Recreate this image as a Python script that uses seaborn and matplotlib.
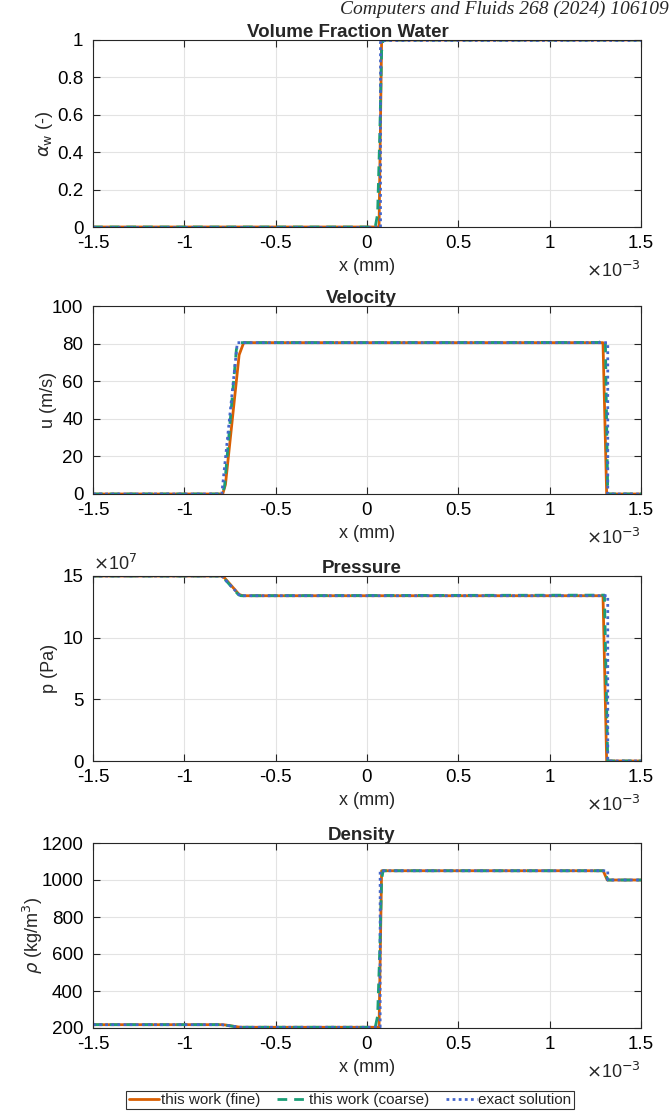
import numpy as np
import pandas as pd
import matplotlib
matplotlib.use("Agg")
import matplotlib.pyplot as plt
import seaborn as sns
from matplotlib.lines import Line2D
from matplotlib.ticker import FuncFormatter

# ---------------- data (x in mm) ----------------
# Volume fraction water
alpha_fine_x = [-1.5, 0.066, 0.080, 1.5]
alpha_fine_y = [0, 0, 1, 1]
alpha_coarse_x = [-1.5, 0.045, 0.058, 0.070, 0.080, 0.088, 1.5]
alpha_coarse_y = [0, 0, 0.07, 0.5, 0.94, 1, 1]
alpha_exact_x = [-1.5, 0.072, 0.072, 1.5]
alpha_exact_y = [0, 0, 1, 1]

# Velocity (m/s)
u_fine_x = [-1.5, -0.79, -0.775, -0.70, -0.675, 1.292, 1.312, 1.5]
u_fine_y = [0, 0, 5, 74, 80.5, 80.5, 0, 0]
u_coarse_x = [-1.5, -0.792, -0.78, -0.715, -0.695, 1.27, 1.29, 1.305, 1.318, 1.5]
u_coarse_y = [0, 0, 4, 77, 80.5, 80.6, 81.5, 81.5, 0, 0]
u_exact_x = [-1.5, -0.795, -0.71, 1.318, 1.318, 1.5]
u_exact_y = [0, 0, 80.5, 80.5, 0, 0]

# Pressure (Pa)
p_fine_x = [-1.5, -0.80, -0.78, -0.70, -0.68, 1.292, 1.312, 1.5]
p_fine_y = [15.0e7, 15.0e7, 14.85e7, 13.5e7, 13.4e7, 13.4e7, 0, 0]
p_coarse_x = [-1.5, -0.80, -0.785, -0.705, -0.69, 1.30, 1.318, 1.5]
p_coarse_y = [15.0e7, 15.0e7, 14.85e7, 13.5e7, 13.4e7, 13.45e7, 0, 0]
p_exact_x = [-1.5, -0.795, -0.695, 1.318, 1.318, 1.5]
p_exact_y = [15.0e7, 15.0e7, 13.4e7, 13.4e7, 0, 0]

# Density (kg/m^3)
rho_fine_x = [-1.5, -0.80, -0.78, -0.70, -0.68, 0.066, 0.080, 1.293, 1.315, 1.5]
rho_fine_y = [218, 218, 217, 205, 204, 204, 1050, 1050, 1000, 1000]
rho_coarse_x = [-1.5, -0.80, -0.785, -0.705, -0.69, 0.045, 0.058, 0.070, 0.080, 0.088, 1.30, 1.318, 1.5]
rho_coarse_y = [218, 218, 217, 205, 204, 204, 265, 627, 1000, 1050, 1050, 1000, 1000]
rho_exact_x = [-1.5, -0.795, -0.695, 0.072, 0.072, 1.318, 1.318, 1.5]
rho_exact_y = [218, 218, 204, 204, 1050, 1050, 1000, 1000]

titles = ["Volume Fraction Water", "Velocity", "Pressure", "Density"]
ylabels = [r"$\alpha_{\rm w}$ (-)", "u (m/s)", "p (Pa)", r"$\rho$ (kg/m$^{\rm 3}$)"]
yticks = [[0, 0.2, 0.4, 0.6, 0.8, 1.0],
          [0, 20, 40, 60, 80, 100],
          [0, 5e7, 10e7, 15e7],
          [200, 400, 600, 800, 1000, 1200]]
ylims = [(0, 1), (0, 100), (0, 15e7), (200, 1200)]
xticks_mm = [-1.5, -1, -0.5, 0, 0.5, 1, 1.5]
legend_labels = ["this work (fine)", "this work (coarse)", "exact solution"]

c_fine = "#D95F02"
c_coarse = "#1B9E77"
c_exact = "#4466CC"

# ---------------- style ----------------
sns.set_theme(style="ticks")
plt.rcParams["font.family"] = ["Liberation Sans", "DejaVu Sans"]
plt.rcParams["axes.unicode_minus"] = False
plt.rcParams["mathtext.fontset"] = "dejavusans"

fig = plt.figure(figsize=(6.71, 11.12), dpi=100)
left = 93 / 671
width = (641 - 93) / 671
rows = [(40, 227), (306, 494), (576, 761), (843, 1028)]
title_x = [0.465, 0.49, 0.49, 0.49]
ylabel_x = [-0.069, -0.066, -0.064, -0.088]

series = [
    [(alpha_fine_x, alpha_fine_y), (alpha_coarse_x, alpha_coarse_y), (alpha_exact_x, alpha_exact_y)],
    [(u_fine_x, u_fine_y), (u_coarse_x, u_coarse_y), (u_exact_x, u_exact_y)],
    [(p_fine_x, p_fine_y), (p_coarse_x, p_coarse_y), (p_exact_x, p_exact_y)],
    [(rho_fine_x, rho_fine_y), (rho_coarse_x, rho_coarse_y), (rho_exact_x, rho_exact_y)],
]
styles = [dict(color=c_fine, linestyle="-", linewidth=2.0),
          dict(color=c_coarse, linestyle=(0, (3.5, 2.5)), linewidth=2.0),
          dict(color=c_exact, linestyle=(0, (1, 1.2)), linewidth=2.0)]

fs_tick = 13.5
fs_lab = 13
xfmt = FuncFormatter(lambda v, p: "%g" % round(v * 1e3, 6))
pfmt = FuncFormatter(lambda v, p: "%g" % round(v / 1e7, 6))
gfmt = FuncFormatter(lambda v, p: "%g" % round(v, 6))

for i, (top, bot) in enumerate(rows):
    hpx = bot - top
    ax = fig.add_axes([left, 1 - bot / 1112, width, hpx / 1112])
    for (sx, sy), st in zip(series[i], styles):
        df = pd.DataFrame({"x": np.array(sx) * 1e-3, "y": sy})
        sns.lineplot(data=df, x="x", y="y", ax=ax, sort=False, estimator=None, **st)
    ax.set_xlim(-1.5e-3, 1.5e-3)
    ax.set_ylim(*ylims[i])
    ax.set_xticks(np.array(xticks_mm) * 1e-3)
    ax.set_yticks(yticks[i])
    ax.xaxis.set_major_formatter(xfmt)
    ax.yaxis.set_major_formatter(pfmt if i == 2 else gfmt)
    ax.grid(True, color="#E3E3E3", linewidth=0.8)
    ax.set_axisbelow(True)
    ax.tick_params(direction="in", top=True, right=True, length=5, width=0.8,
                   labelsize=fs_tick, colors="#262626", labelcolor="black")
    ax.tick_params(axis="x", pad=6)
    ax.tick_params(axis="y", pad=7)
    for s in ax.spines.values():
        s.set_color("#262626")
        s.set_linewidth(0.8)
    ax.set_title(titles[i], fontsize=13.5, fontweight="bold", pad=2, x=title_x[i])
    ax.set_xlabel("x (mm)", fontsize=fs_lab, labelpad=4)
    ax.set_ylabel(ylabels[i], fontsize=fs_lab)
    ax.yaxis.set_label_coords(ylabel_x[i], 0.5)
    # exponent label under the right end of the x axis
    ax.text(1.0, -50 / hpx, r"$\times$10$^{-3}$", transform=ax.transAxes,
            ha="right", va="baseline", fontsize=fs_lab)
    if i == 2:
        ax.text(0.0, 1.01, r"$\times$10$^{7}$", transform=ax.transAxes,
                ha="left", va="bottom", fontsize=fs_lab)
    if ax.get_legend() is not None:
        ax.get_legend().remove()

fig.text(0.997, 0.999, "Computers and Fluids 268 (2024) 106109", ha="right", va="top",
         fontsize=14, family=["Liberation Serif", "DejaVu Serif"], style="italic")

handles = [Line2D([], [], **st) for st in styles]
leg = fig.legend(handles, legend_labels, loc="center", ncol=3,
                 bbox_to_anchor=(350 / 671, 1 - 1100 / 1112), fontsize=11,
                 frameon=True, fancybox=False, edgecolor="black", handlelength=2.0,
                 handletextpad=0.1, columnspacing=1.1, borderpad=0.15, borderaxespad=0)
leg.get_frame().set_linewidth(0.8)

fig.savefig("out.png", dpi=100)
